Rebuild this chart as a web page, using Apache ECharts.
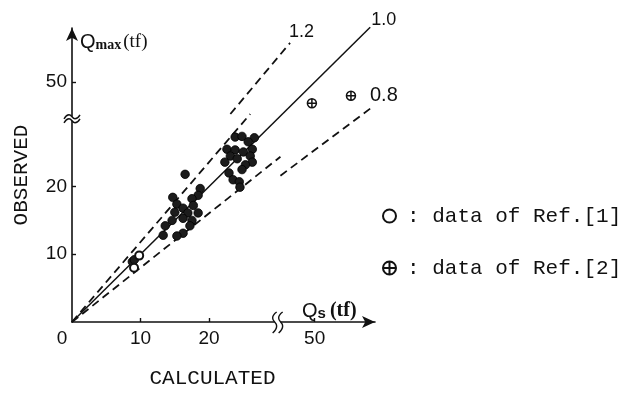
<!DOCTYPE html>
<html>
<head>
<meta charset="utf-8">
<script src="https://cdn.jsdelivr.net/npm/echarts@6/dist/echarts.min.js"></script>
<style>
  html, body { margin: 0; padding: 0; background: #fff; }
  #main { width: 628px; height: 394px; }
</style>
</head>
<body>
<div id="main"></div>
<script>
// measured values (tf); axes are broken at 30, the part above is squeezed
var studyCalc = [8.8, 9.1, 16.5, 18.7, 18.4, 14.7, 15.3, 17.5, 17.7, 16.2, 15.0, 16.9, 18.4, 16.2, 14.6, 17.5, 17.2, 13.6, 13.3, 16.2, 15.3,
                 23.8, 24.8, 26.6, 25.7, 22.6, 23.8, 25.0, 26.3, 23.1, 24.1, 26.0, 26.3, 25.3, 24.8, 22.9, 23.5, 24.4, 24.5, 22.3];
var studyObs  = [8.9, 9.2, 21.8, 19.7, 18.7, 18.4, 17.4, 18.2, 17.2, 16.8, 16.2, 16.1, 16.1, 15.3, 15.0, 15.0, 14.2, 14.2, 12.8, 13.1, 12.7,
                 27.3, 27.4, 27.2, 26.6, 25.5, 25.4, 25.1, 25.5, 24.5, 24.1, 24.5, 23.6, 23.2, 22.5, 22.0, 21.0, 20.7, 19.9, 23.6];
var ref1Calc = [9.8, 9.05];
var ref1Obs  = [9.8, 8.0];
var ref2Calc = [48.5, 69.6];
var ref2Obs  = [38.5, 42.6];

// ratio lines Qmax/Qs, drawn in pieces on each side of the break
var line12 = [[0, 0], [26.0, 32.6], null, [23.1, 32.6], [36.7, 71.5]];
var line10 = [[0, 0], [80, 80]];
var line08 = [[0, 0], [31.5, 24.4], null, [31.5, 21.6], [81.5, 36.7]];

var tickValues = [10, 20, 50];
var labelValues = [0, 10, 20, 50];

var BREAK = 30, SQUEEZE = 0.27;
function brk(v) { return v <= BREAK ? v : BREAK + (v - BREAK) * SQUEEZE; }
function unbrk(d) { return d <= BREAK + 1e-9 ? d : BREAK + (d - BREAK) / SQUEEZE; }

function pairs(xs, ys) {
    return xs.map(function (x, i) { return [brk(x), brk(ys[i])]; });
}
function linePts(arr) {
    return arr.map(function (p) { return p ? [brk(p[0]), brk(p[1])] : ['-', '-']; });
}

var INK = '#111';
var mono = "'Liberation Mono', 'DejaVu Sans Mono', monospace";
var sans = "'Liberation Sans', Arial, sans-serif";
var serif = "'Liberation Serif', serif";
var oplus = 'path://M10,0A10,10 0 1 1 -10,0A10,10 0 1 1 10,0ZM0,-10L0,10M-10,0L10,0';

var chart = echarts.init(document.getElementById('main'));

function axisBase() {
    return {
        type: 'value',
        min: 0,
        splitLine: { show: false },
        axisLine: { show: true, lineStyle: { color: INK, width: 1.6 },
                    symbol: ['none', 'arrow'], symbolSize: [9, 13] },
        axisTick: { show: true, inside: true, length: 4, lineStyle: { color: INK, width: 1.4 },
                    customValues: tickValues.map(brk) },
        axisLabel: { customValues: labelValues.map(brk), color: INK, fontFamily: sans, fontSize: 19,
                     formatter: function (v) { return String(Math.round(unbrk(v))); } }
    };
}

var xAxis = axisBase();
xAxis.max = 44.2;
xAxis.axisLabel.margin = 7;
xAxis.axisLabel.formatter = function (v) {
    var s = String(Math.round(unbrk(v)));
    return v === 0 ? '{o|' + s + '}' : s;
};
xAxis.axisLabel.rich = { o: { fontFamily: sans, fontSize: 19, color: INK, padding: [0, 20, 0, 0] } };
xAxis.name = 'CALCULATED';
xAxis.nameLocation = 'middle';
xAxis.nameGap = 46;
xAxis.nameTextStyle = { fontFamily: mono, fontSize: 21, color: INK, padding: [0, 22, 0, 0] };

var yAxis = axisBase();
yAxis.max = 43.4;
yAxis.axisLabel.margin = 5;
yAxis.axisLabel.customValues = [10, 20, 50].map(brk);
yAxis.name = 'OBSERVED';
yAxis.nameLocation = 'middle';
yAxis.nameGap = 40;
yAxis.nameTextStyle = { fontFamily: mono, fontSize: 21, color: INK };

function ratioLine(name, data, type, width, offset, size) {
    return {
        name: name, type: 'line', data: data, symbol: 'none', silent: true, clip: false,
        connectNulls: false,
        lineStyle: { color: INK, width: width, type: type },
        endLabel: { show: true, formatter: name, color: INK, fontFamily: sans, fontSize: size, offset: offset },
        z: 1
    };
}

chart.setOption({
    animation: false,
    backgroundColor: '#fff',
    grid: { left: 72, top: 28, right: 253, bottom: 69 },
    xAxis: xAxis,
    yAxis: yAxis,
    legend: {
        orient: 'vertical', left: 382, top: 205, padding: 0,
        itemWidth: 13, itemHeight: 13, itemGap: 30,
        data: ['data of Ref.[1]', 'data of Ref.[2]'],
        formatter: function (n) { return ': ' + n; },
        textStyle: { fontFamily: mono, fontSize: 21, color: INK, lineHeight: 22, padding: [0, 0, 0, 6] }
    },
    series: [
        ratioLine('1.2', linePts(line12), [8, 5], 1.8, [-9, -11], 18),
        ratioLine('1.0', linePts(line10), 'solid', 1.5, [-7, -7], 18),
        ratioLine('0.8', linePts(line08), [8, 5], 1.8, [-11, -11], 20),
        {
            name: 'this study', type: 'scatter', data: pairs(studyCalc, studyObs),
            symbol: 'circle', symbolSize: 8.5,
            itemStyle: { color: '#1c1c1c', borderColor: '#000', borderWidth: 0.8, opacity: 1 }, z: 3
        },
        {
            name: 'data of Ref.[1]', type: 'scatter', data: pairs(ref1Calc, ref1Obs),
            symbol: 'emptyCircle', symbolSize: 8,
            itemStyle: { color: INK, borderColor: INK, borderWidth: 1.3, opacity: 1 }, z: 4
        },
        {
            name: 'data of Ref.[2]', type: 'scatter', data: pairs(ref2Calc, ref2Obs),
            symbol: oplus, symbolSize: 9,
            itemStyle: { color: 'rgba(0,0,0,0)', borderColor: INK, borderWidth: 1.5, opacity: 1 }, z: 4
        }
    ]
});

// axis break marks and axis titles
var bx = chart.convertToPixel({ gridIndex: 0 }, [BREAK, 0]);
var by = chart.convertToPixel({ gridIndex: 0 }, [0, BREAK]);
var org = chart.convertToPixel({ gridIndex: 0 }, [0, 0]);
var yEnd = chart.convertToPixel({ gridIndex: 0 }, [0, 43.4]);
var xEnd = chart.convertToPixel({ gridIndex: 0 }, [44.2, 0]);

function vWave(cx, cy) {
    return { type: 'polyline', silent: true, z: 20,
             shape: { points: [[cx + 2, cy - 10], [cx - 2, cy - 4], [cx + 2, cy + 4], [cx - 2, cy + 11]], smooth: 0.5 },
             style: { stroke: INK, lineWidth: 1.4, fill: null } };
}
function hWave(cx, cy) {
    return { type: 'polyline', silent: true, z: 20,
             shape: { points: [[cx - 8, cy + 2], [cx - 3, cy - 2], [cx + 3, cy + 2], [cx + 8, cy - 2]], smooth: 0.5 },
             style: { stroke: INK, lineWidth: 1.4, fill: null } };
}

chart.setOption({
    graphic: [
        { type: 'rect', silent: true, z: 19, shape: { x: bx[0] - 3, y: org[1] - 2, width: 6, height: 4 }, style: { fill: '#fff' } },
        vWave(bx[0] - 3, org[1]),
        vWave(bx[0] + 3, org[1]),
        { type: 'rect', silent: true, z: 19, shape: { x: org[0] - 2, y: by[1] - 2, width: 4, height: 4 }, style: { fill: '#fff' } },
        hWave(org[0], by[1] - 2),
        hWave(org[0], by[1] + 2),
        {
            type: 'text', silent: true, z: 20,
            style: {
                x: org[0] + 8, y: yEnd[1] + 24, verticalAlign: 'bottom',
                text: '{q|Q}{m|max}{t|(tf)}',
                rich: {
                    q: { fontFamily: sans, fontSize: 20, fill: INK, verticalAlign: 'bottom' },
                    m: { fontFamily: serif, fontWeight: 'bold', fontSize: 14, fill: INK, verticalAlign: 'bottom' },
                    t: { fontFamily: serif, fontSize: 19, fill: INK, verticalAlign: 'bottom', padding: [0, 0, 0, 2] }
                }
            }
        },
        {
            type: 'text', silent: true, z: 20,
            style: {
                x: xEnd[0] - 73, y: org[1] - 1, verticalAlign: 'bottom',
                text: '{q|Q}{s|s}{t|(tf)}',
                rich: {
                    q: { fontFamily: sans, fontSize: 20, fill: INK, verticalAlign: 'bottom' },
                    s: { fontFamily: sans, fontWeight: 'bold', fontSize: 15, fill: INK, verticalAlign: 'bottom' },
                    t: { fontFamily: serif, fontWeight: 'bold', fontSize: 20, fill: INK, verticalAlign: 'bottom', padding: [0, 0, 0, 4] }
                }
            }
        }
    ]
});
</script>
</body>
</html>
